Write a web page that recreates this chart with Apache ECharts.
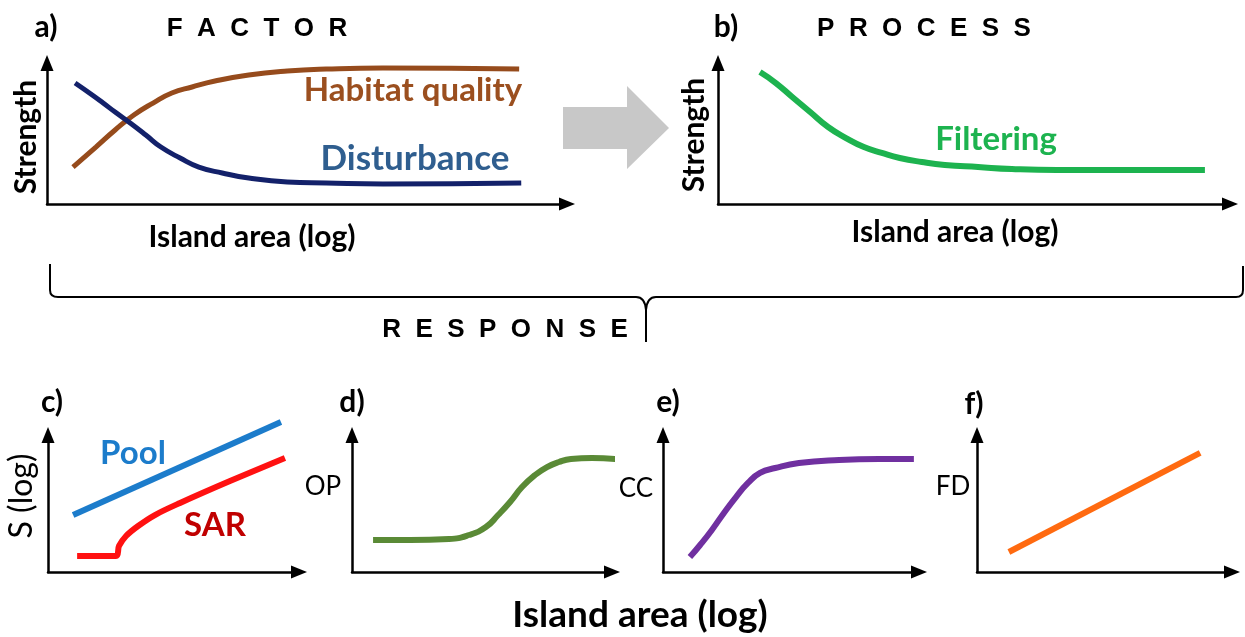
<!DOCTYPE html>
<html>
<head>
<meta charset="utf-8">
<script src="https://cdn.jsdelivr.net/npm/echarts@6/dist/echarts.min.js"></script>
<style>
  html, body { margin: 0; padding: 0; background: #fff; }
  #main { width: 1245px; height: 637px; }
</style>
</head>
<body>
<div id="main"></div>
<script>
  // curves, x and y both on a 0..10 scale
  var habitatQuality = [[0.5, 2.62], [0.94, 4.04], [1.31, 5.25], [1.67, 6.31], [2.04, 7.16], [2.4, 7.87], [2.79, 8.3], [3.23, 8.72],
    [3.88, 9.15], [4.62, 9.43], [5.37, 9.57], [6.46, 9.65], [9.08, 9.57]];
  var disturbance = [[0.54, 8.58], [0.87, 7.73], [1.08, 7.16], [1.31, 6.52], [1.6, 5.74], [1.9, 4.89], [2.19, 4.04], [2.56, 3.26],
    [2.92, 2.62], [3.37, 2.2], [3.88, 1.84], [4.62, 1.56], [5.37, 1.49], [6.46, 1.42], [9.12, 1.49]];
  var filtering = [[0.82, 9.36], [1.13, 8.58], [1.45, 7.59], [1.8, 6.52], [2.15, 5.46], [2.5, 4.68], [2.85, 4.04], [3.2, 3.62],
    [3.55, 3.26], [3.98, 2.98], [4.43, 2.77], [5.08, 2.62], [5.74, 2.48], [6.62, 2.41], [7.5, 2.41], [9.51, 2.41]];
  var pool = [[1.0, 4.16], [9.28, 10.95]];
  var sar = [[1.16, 1.17], [2.71, 1.17], [2.83, 1.9], [3.11, 2.63], [3.59, 3.36], [4.26, 4.16], [5.26, 5.04], [7.25, 6.64], [9.44, 8.32]];
  var opCurve = [[0.81, 2.34], [2.23, 2.34], [3.73, 2.41], [4.5, 2.7], [5.15, 3.28], [5.62, 4.16], [6.08, 5.11], [6.54, 6.2],
    [7.04, 7.08], [7.5, 7.66], [7.96, 8.03], [8.42, 8.25], [9.23, 8.32], [10.15, 8.25]];
  var ccCurve = [[1.05, 1.09], [1.45, 1.97], [1.91, 3.07], [2.38, 4.31], [2.85, 5.47], [3.32, 6.5], [3.79, 7.23], [4.38, 7.59],
    [5.31, 7.96], [6.88, 8.18], [8.44, 8.25], [9.8, 8.25]];
  var fdLine = [[1.25, 1.46], [8.75, 8.69]];

  var chart = echarts.init(document.getElementById('main'));
  var W = 1245, H = 637;

  // panel boxes: axis corner (left, bottom) and where axis lines end (before arrow head)
  var panels = [
    { l: 47, r: 567, t: 63, b: 204 },   // a
    { l: 718, r: 1230, t: 63, b: 204 }, // b
    { l: 48, r: 299, t: 435, b: 572 },  // c
    { l: 352, r: 612, t: 435, b: 572 }, // d
    { l: 663, r: 919, t: 435, b: 572 }, // e
    { l: 977, r: 1232, t: 435, b: 572 } // f
  ];

  var axisLine = {
    show: true,
    onZero: false,
    symbol: ['none', 'triangle'],
    symbolSize: [13, 16],
    lineStyle: { color: '#000', width: 2.5 }
  };

  function axis(i) {
    return {
      type: 'value', gridIndex: i, min: 0, max: 10,
      axisLine: axisLine, axisTick: { show: false },
      axisLabel: { show: false }, splitLine: { show: false }
    };
  }

  function curve(i, data, color, width, smooth) {
    return {
      type: 'line', xAxisIndex: i, yAxisIndex: i, data: data,
      symbol: 'none', smooth: smooth, clip: false, silent: true,
      lineStyle: { color: color, width: width, cap: 'butt' }
    };
  }

  function txt(x, y, s, font, color, rot) {
    return {
      type: 'text', x: x, y: y, rotation: rot || 0, silent: true,
      style: { text: s, font: font, fill: color || '#000', textAlign: 'center', textVerticalAlign: 'middle' }
    };
  }

  var braceStyle = { stroke: '#000', lineWidth: 2, fill: null };
  function seg(x1, y1, x2, y2) {
    return { type: 'line', silent: true, shape: { x1: x1, y1: y1, x2: x2, y2: y2 }, style: braceStyle };
  }
  function bend(x1, y1, cx, cy, x2, y2) {
    return { type: 'bezierCurve', silent: true, shape: { x1: x1, y1: y1, cpx1: cx, cpy1: cy, x2: x2, y2: y2 }, style: braceStyle };
  }

  var title = 'bold 30px Lato';
  var lab = 'bold 33px Lato';
  var letter = 'bold 30px Lato';
  var head = 'bold 26px "Liberation Sans"';

  chart.setOption({
    animation: false,
    backgroundColor: '#fff',
    grid: panels.map(function (p) {
      return { left: p.l, right: W - p.r, top: p.t, bottom: H - p.b };
    }),
    xAxis: panels.map(function (p, i) { return axis(i); }),
    yAxis: panels.map(function (p, i) { return axis(i); }),
    series: [
      curve(0, habitatQuality, '#964B1C', 5, 0.5),
      curve(0, disturbance, '#13216A', 5, 0.5),
      curve(1, filtering, '#1DB34F', 6, 0.5),
      curve(2, pool, '#1C7CCB', 6, false),
      curve(2, sar, '#FF1111', 6, 0.35),
      curve(3, opCurve, '#5A8A36', 6, 0.5),
      curve(4, ccCurve, '#7030A0', 6, 0.5),
      curve(5, fdLine, '#FF6A10', 6, false)
    ],
    graphic: [
      // gray arrow between a and b
      {
        type: 'polygon', silent: true,
        shape: { points: [[563, 107], [627, 107], [627, 86], [669, 128], [627, 169], [627, 149], [563, 149]] },
        style: { fill: '#C8C8C8' }
      },
      // brace
      seg(50, 264, 50, 290),
      bend(50, 290, 50, 297, 58, 297),
      seg(58, 297, 636, 297),
      bend(636, 297, 645, 297, 646, 310),
      seg(646, 310, 646, 342),
      bend(646, 310, 647, 297, 656, 297),
      seg(656, 297, 1236, 297),
      bend(1236, 297, 1243, 297, 1243, 290),
      seg(1243, 290, 1243, 266),
      txt(46, 27, 'a)', letter),
      txt(257, 29, 'F  A  C  T  O  R', head),
      txt(726, 27, 'b)', letter),
      txt(924, 29, 'P  R  O  C  E  S  S', head),
      txt(26, 137, 'Strength', title, '#000', Math.PI / 2),
      txt(694, 135, 'Strength', title, '#000', Math.PI / 2),
      txt(252, 237, 'Island area (log)', title),
      txt(955, 232, 'Island area (log)', title),
      txt(413, 90, 'Habitat quality', lab, '#9B4F1F'),
      txt(415, 159, 'Disturbance', 'bold 35px Lato', '#2F5E8F'),
      txt(996, 139, 'Filtering', lab, '#1DB34F'),
      txt(505, 330, 'R  E  S  P  O  N  S  E', head),
      txt(52, 402, 'c)', letter),
      txt(352, 402, 'd)', letter),
      txt(668, 402, 'e)', letter),
      txt(974, 404, 'f)', letter),
      txt(22, 496, 'S (log)', '32px Lato', '#000', Math.PI / 2),
      txt(323, 487, 'OP', '26px Lato'),
      txt(636, 489, 'CC', '26px Lato'),
      txt(953, 487, 'FD', '26px Lato'),
      txt(133, 453, 'Pool', lab, '#1C7CCB'),
      txt(215, 525, 'SAR', lab, '#C00000'),
      txt(640, 615, 'Island area (log)', 'bold 37px Lato')
    ]
  });
</script>
</body>
</html>
